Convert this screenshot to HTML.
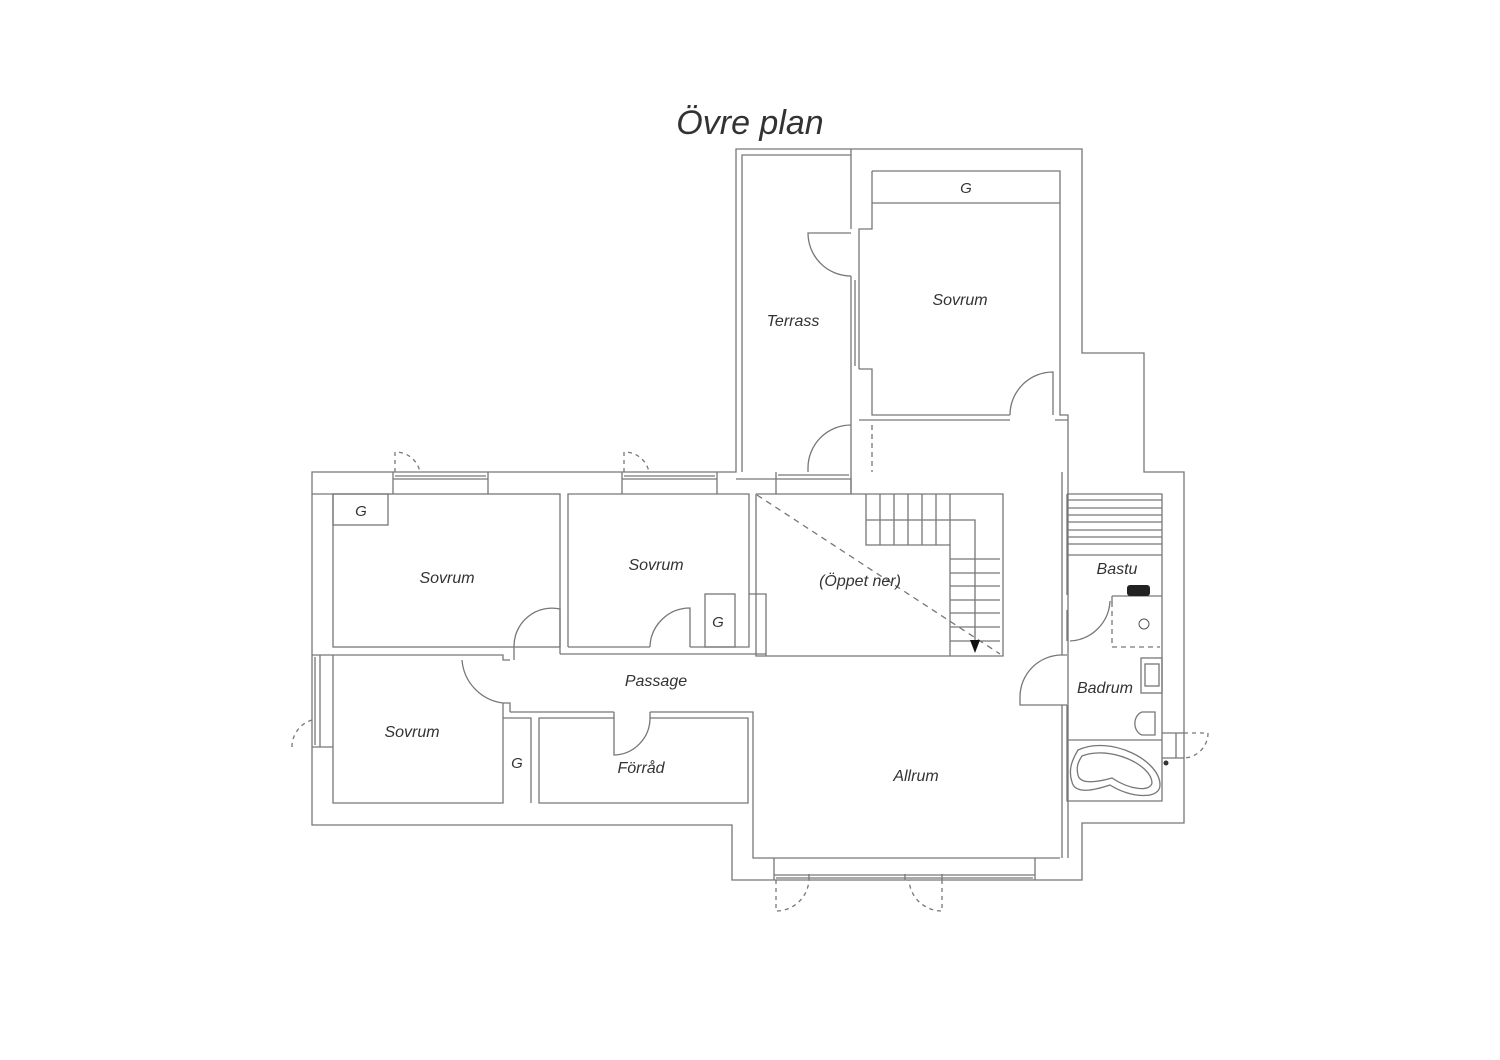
<!DOCTYPE html>
<html><head><meta charset="utf-8"><style>
html,body{margin:0;padding:0;background:#fff;width:1500px;height:1060px;overflow:hidden}
svg{display:block}
text{font-family:"Liberation Sans",sans-serif;font-style:italic;fill:#333}
</style></head><body>
<svg width="1500" height="1060" viewBox="0 0 1500 1060">
<text x="750" y="134" font-size="34" text-anchor="middle" fill="#222">Övre plan</text>
<g fill="none" stroke="#777" stroke-width="1.3">
<path d="M312 472 H736 V149 H1082 V353 H1144 V472 H1184 V823 H1082 V880 H732 V825 H312 Z"/>
<path d="M742 472 V155 H851"/>
<path d="M851 149 V229"/><path d="M851 369 V494"/>
<path d="M872 171 H1060 V203 H872"/>
<path d="M1060 203 V415 H1068 V858"/>
<path d="M872 171 V229 H859 V276"/>
<path d="M859 369 H872 V415 H1010"/>
<path d="M859 276 V369 M851 276 V369 M855 280 V366"/>
<path d="M859 420 H1010 M1055 420 H1068"/>
<path d="M1053 415 V372 A43 43 0 0 0 1010 415"/>
<path d="M851 233 H808 A43 43 0 0 0 851 276"/>
<path d="M851 425 A43 43 0 0 0 808 468 V472"/>
<path d="M872 425 V472" stroke-dasharray="5,4"/>
<path d="M312 494 H333 M736 479 H776 V494"/>
<path d="M776 479 V472 M776 479 H851 V494"/>
<path d="M778 475 H849"/>
<path d="M393 472 V494 M488 472 V494 M393 479 H488 M395 476 H486"/>
<path d="M622 472 V494 M717 472 V494 M622 479 H717 M624 476 H715"/>
<path d="M395 472 V452 A25 25 0 0 1 420 472" stroke-dasharray="4,4"/>
<path d="M624 472 V452 A25 25 0 0 1 649 472" stroke-dasharray="4,4"/>
<rect x="333" y="494" width="227" height="153"/>
<rect x="333" y="494" width="55" height="31"/>
<path d="M568 647 V494 H749 V647 H690"/>
<path d="M568 647 H650"/>
<rect x="705" y="594" width="30" height="53"/>
<path d="M749 594 H766 V656"/>
<path d="M560 647 V609 A38 38 0 0 0 514 647 V660"/>
<path d="M560 654 V647 M560 654 H766"/>
<path d="M650 647 A40 40 0 0 1 690 608 V647"/>
<path d="M333 655 H503 V660 H510"/>
<path d="M462 660 A47 47 0 0 0 503 703 H510 V712"/>
<path d="M503 703 V803 H333 V655"/>
<path d="M510 712 H614 M650 712 H753 V858 H1060"/>
<path d="M503 718 H531 V803"/>
<path d="M614 718 H539 V803 H748 V718 H650"/>
<path d="M614 712 V755 A37 37 0 0 0 650 718 V712"/>
<path d="M312 655 H333 M312 747 H333 M320 655 V747 M315 657 V745"/>
<path d="M312 720 A28 28 0 0 0 292 747" stroke-dasharray="4,4"/>
<path d="M756 494 V656 H948"/>
<path d="M756 494 H1003 V656 H948"/>
<path d="M866 494 V545 H950 V656"/>
<path d="M880 494 V545 M894 494 V545 M908 494 V545 M922 494 V545 M936 494 V545 M950 494 V545"/>
<path d="M866 520 H975 V650"/>
<path d="M950 559 H1000 M950 573 H1000 M950 586 H1000 M950 600 H1000 M950 613 H1000 M950 627 H1000 M950 641 H1000"/>
<path d="M757 495 L1000 654" stroke-dasharray="6,5"/>
<path d="M1062 472 V655 M1062 705 V858"/>
<path d="M1067 494 H1162 V801 H1067 V705"/>
<path d="M1067 494 V595 M1067 610 V641"/>
<path d="M1067 500 H1162 M1067 508 H1162 M1067 515 H1162 M1067 522 H1162 M1067 530 H1162 M1067 537 H1162 M1067 544 H1162 M1067 555 H1162"/>
<path d="M1112 596 H1162 M1112 596 V603"/>
<path d="M1070 641 A42 42 0 0 0 1110 601"/>
<path d="M1112 602 V647 H1160" stroke-dasharray="5,4"/>
<path d="M1062 655 A42 42 0 0 0 1020 697 V705 H1067 M1062 655 H1067"/>
<rect x="1141" y="658" width="21" height="35"/>
<rect x="1145" y="664" width="14" height="22"/>
<path d="M1155 712 H1142 A10 12 0 0 0 1142 735 H1155 Z"/>
<path d="M1067 740 H1162"/>
<path d="M1078 750 C1110 735 1160 760 1160 785 C1160 800 1130 798 1110 785 C1095 790 1075 795 1072 782 C1068 770 1072 760 1078 750 Z"/>
<path d="M1082 756 C1110 745 1152 765 1152 783 C1150 792 1130 790 1112 778 C1098 782 1080 785 1078 775 C1076 767 1078 762 1082 756 Z"/>
<path d="M1162 733 H1184 M1162 758 H1184 M1176 733 V758"/>
<path d="M1184 733 H1208 A25 25 0 0 1 1184 758" stroke-dasharray="4,4"/>
<path d="M774 858 V880 M1035 858 V880 M774 875 H1035 M776 878 H1033 M809 874 V880 M905 874 V880 M942 874 V880"/>
<path d="M776 880 V911 A33 33 0 0 0 809 880" stroke-dasharray="4,4"/>
<path d="M942 880 V911 A33 33 0 0 1 909 880" stroke-dasharray="4,4"/>
</g>
<polygon points="970,640 980,640 975,653" fill="#111"/>
<rect x="1127" y="585" width="23" height="11" rx="3" fill="#222"/>
<circle cx="1166" cy="763" r="2.5" fill="#333"/>
<circle cx="1144" cy="624" r="5" fill="none" stroke="#555"/>
<g font-size="16">
<text x="966" y="193" text-anchor="middle" font-size="15">G</text>
<text x="960" y="305" text-anchor="middle">Sovrum</text>
<text x="793" y="326" text-anchor="middle">Terrass</text>
<text x="361" y="516" text-anchor="middle" font-size="15">G</text>
<text x="447" y="583" text-anchor="middle">Sovrum</text>
<text x="656" y="570" text-anchor="middle">Sovrum</text>
<text x="718" y="627" text-anchor="middle" font-size="15">G</text>
<text x="860" y="586" text-anchor="middle">(Öppet ner)</text>
<text x="1117" y="574" text-anchor="middle">Bastu</text>
<text x="656" y="686" text-anchor="middle">Passage</text>
<text x="1105" y="693" text-anchor="middle">Badrum</text>
<text x="412" y="737" text-anchor="middle">Sovrum</text>
<text x="517" y="768" text-anchor="middle" font-size="15">G</text>
<text x="641" y="773" text-anchor="middle">Förråd</text>
<text x="916" y="781" text-anchor="middle">Allrum</text>
</g>
</svg>
</body></html>
